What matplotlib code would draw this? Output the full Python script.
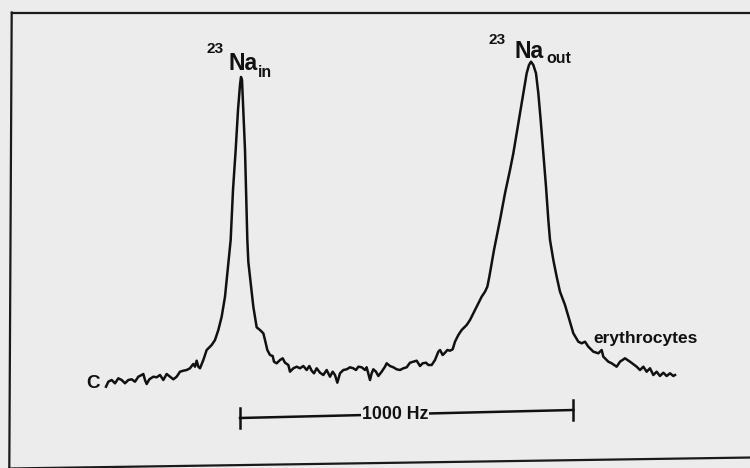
import matplotlib
matplotlib.use('Agg')
import matplotlib.pyplot as plt
from matplotlib import font_manager
from matplotlib.lines import Line2D

# spectrum: offset in Hz (Na_in ~ 0) vs intensity (arb. units)
freq_hz = [-402, -395, -385, -375, -365, -355, -345, -335, -325, -315, -305, -295,
           -290, -285, -280, -272, -260, -250, -240, -230, -220, -210, -200, -190,
           -180, -170, -160, -150, -145, -140, -135, -130, -125, -120, -110, -100,
           -85, -75, -65, -55, -45, -38, -32, -28, -21, -13, -6, 0, 3, 6, 10, 15,
           19, 22, 25, 32, 40, 50, 60, 70, 75, 82, 90, 98, 102, 110, 120, 128, 135,
           145, 150, 160, 170, 180, 190, 200, 208, 215, 222, 230, 240, 250, 260, 270,
           278, 285, 292, 300, 310, 320, 330, 340, 348, 355, 365, 375, 380, 390, 395,
           400, 408, 415, 425, 435, 440, 450, 460, 470, 480, 490, 500, 510, 520, 530,
           540, 548, 558, 565, 575, 585, 595, 600, 608, 615, 622, 630, 638, 645, 655,
           665, 680, 690, 700, 715, 725, 735, 742, 748, 755, 762, 770, 780, 795, 810,
           820, 830, 840, 850, 860, 867, 873, 880, 888, 895, 902, 910, 918, 925, 930,
           935, 940, 950, 960, 975, 990, 1000, 1015, 1025, 1035, 1045, 1060, 1075,
           1085, 1090, 1105, 1115, 1130, 1140, 1155, 1170, 1190, 1200, 1210, 1220,
           1230, 1240, 1250, 1260, 1270, 1280, 1290, 1300, 1305]
intensity = [13.3, 18.3, 20, 16.7, 21.7, 20, 16.7, 20, 20.7, 18.3, 23.3, 25,
             26, 20, 16, 20.7, 23.3, 22.7, 25, 20, 26, 23.3, 20.7, 23.3,
             28.3, 29.3, 30, 31.7, 34, 36, 33.3, 39.3, 33.3, 31.7, 40, 50,
             55, 60, 70, 83.3, 103.3, 126.7, 146.7, 160, 210, 250, 290, 315, 323, 320, 290, 250,
             200, 160, 138, 116.7, 93.3, 72.7, 70, 66.7, 60, 50, 45, 44, 38.3, 36.7, 40, 41.7, 37.3,
             35, 28.3, 31.7, 33.3, 31.7, 34, 30, 34, 29.3, 26.7, 31.7, 27.3, 25, 30, 23.3,
             28.3, 25, 17.3, 26.7, 30, 30.7, 32.7, 31.7, 30, 33.3, 32.7, 30, 32.7, 20, 26.7,
             30.7, 28.3, 24, 28.3, 33.3, 36.7, 34, 32.7, 30.7, 30, 31.7, 32.7, 37.3, 38.3, 39.3,
             34, 36.7, 37.3, 35, 35, 40, 48.3, 50, 45, 47.3, 50, 49.3, 50.7, 58.3, 65,
             70, 75, 80, 86.7, 96.7, 103.3, 108.3, 113.3, 123.3, 136.7, 150, 163.3, 180, 206.7, 230,
             246.7, 266.7, 286.7, 306.7, 326.7, 335, 338.3, 335, 326.7, 306.7, 280, 246.7, 213.3, 180, 160,
             150, 140, 123.3, 108.3, 95, 78, 66.7, 58.3, 56.7, 58.3, 53.3, 48.3, 46.7,
             50, 43.3, 38.3, 36.7, 33.3, 38.3, 41.7, 38.3, 33.3, 30, 33.3, 28.3,
             31.7, 25, 28.3, 24, 27.3, 24, 26.7, 24, 25]

peak_in_label = 'Na'
peak_in_sub = 'in'
peak_out_sub = 'out'
isotope = '23'
sample_label = 'erythrocytes'
trace_label = 'C'
scale_hz = [0, 1000]
scale_y = [-18, -10]
scale_text = '1000 Hz'

bg = '#ececec'
ink = '#111111'


def pick_font(names):
    have = {f.name for f in font_manager.fontManager.ttflist}
    for n in names:
        if n in have:
            return n
    return 'DejaVu Sans'


narrow = pick_font(['Liberation Sans Narrow', 'Liberation Sans', 'Arial'])
nscale = 1.0 if narrow == 'Liberation Sans Narrow' else 0.85

fig = plt.figure(figsize=(7.5, 4.68), dpi=100, facecolor=bg)
ax = fig.add_axes([0, 0, 1, 1])
ax.set_facecolor('none')
ax.axis('off')
ax.set_xlim(-720, 1530)
ax.set_ylim(-68, 400)

ax.plot(freq_hz, intensity, color=ink, lw=1.8, solid_joinstyle='round')

# peak labels, placed relative to each apex
i_in = intensity.index(max(intensity[:60]))
i_out = intensity.index(max(intensity[60:]))


def peak_label(i, dna, d23, dsub, sub):
    xy = (freq_hz[i], intensity[i])
    kw = dict(xycoords='data', textcoords='offset pixels', family=narrow,
              fontweight='bold', color=ink)
    ax.annotate(peak_in_label, xy, xytext=dna, ha='left', va='baseline',
                fontsize=19.5 * nscale, **kw)
    ax.annotate(isotope, xy, xytext=d23, ha='right', va='bottom',
                fontsize=13 * nscale, **kw)
    ax.annotate(sub, xy, xytext=dsub, ha='left', va='baseline',
                fontsize=13.5 * nscale, **kw)


peak_label(i_in, (-13, 7), (-17, 21), (17, 0), peak_in_sub)
peak_label(i_out, (-16, 4), (-25, 15), (15, -1), peak_out_sub)

ax.text(-440, 16.5, trace_label, family=narrow, fontweight='bold',
        fontsize=16 * nscale, color=ink, ha='center', va='center')
ax.text(1059, 57, sample_label, family=narrow, fontweight='bold',
        fontsize=14.7 * nscale, color=ink, ha='left', va='baseline')

# 1000 Hz scale bar
ax.plot(scale_hz, scale_y, color=ink, lw=1.8)
for x, y in zip(scale_hz, scale_y):
    ax.plot([x, x], [y - 10, y + 10], color=ink, lw=1.8)
ax.text(sum(scale_hz) / 2 - 35, sum(scale_y) / 2 - 0.5, scale_text, family=narrow,
        fontweight='bold', fontsize=15 * nscale, color=ink, ha='center', va='center',
        bbox=dict(boxstyle='square,pad=0.05', fc=bg, ec='none'))

# scanned frame, slightly skewed
W, H = 750.0, 468.0
frame = [((11.7, 12.5), (752, 12.5)),
         ((11.7, 12.5), (9.3, 468.5)),
         ((9.3, 468.5), (752, 457.5))]
for (x0, y0), (x1, y1) in frame:
    fig.add_artist(Line2D([x0 / W, x1 / W], [1 - y0 / H, 1 - y1 / H],
                          transform=fig.transFigure, color='#1a1a1a', lw=1.6))

fig.savefig('out.png', dpi=100, facecolor=bg)
